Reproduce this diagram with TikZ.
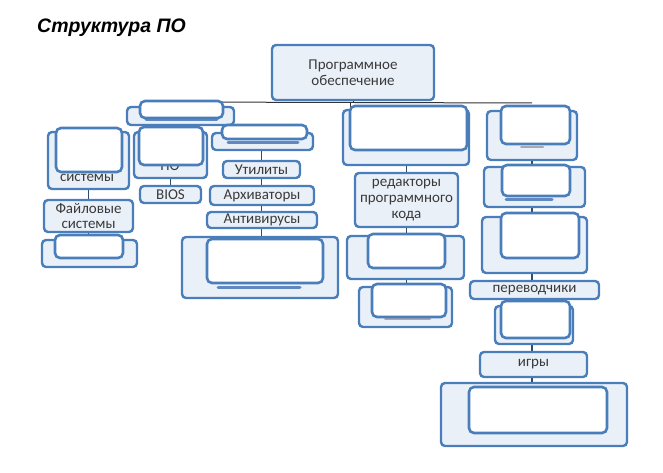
\documentclass[tikz,border=0pt]{standalone}
\usepackage{fontspec}
\setmainfont{Carlito}
\newfontfamily\titlefont{Liberation Sans}
\definecolor{bblue}{HTML}{4A7EBB}
\definecolor{bfill}{HTML}{EAF0F8}
\definecolor{tgray}{HTML}{3A3A3A}
\definecolor{smudge}{HTML}{4A78B8}
\pgfdeclarelayer{bg}
\pgfsetlayers{bg,main}
\newcommand\mybox[7]{\node[#2, minimum width={(#5-#3)*1pt}, minimum height={(#6-#4)*1pt}] (#1) at ({(#3+#5)/2},{(#4+#6)/2}) {#7};}
\begin{document}
\begin{tikzpicture}[x=1pt,y=-1pt,
  under/.style={draw=bblue, fill=bfill, line width=2.4pt, rounded corners=4pt, inner sep=0pt, align=center, text=tgray, font=\fontsize{15}{15.6}\selectfont},
  wbox/.style={draw=bblue, fill=white, line width=2.6pt, rounded corners=5pt, inner sep=0pt},
  conn/.style={draw=black!80, line width=1pt},
  tick/.style={draw=bblue!60!black, line width=1.3pt},
  smear/.style={draw=smudge, line width=3pt, line cap=round, opacity=0.85},
  gsmear/.style={draw=black!45, line width=2pt, line cap=round, opacity=0.7},
  btext/.style={text=tgray, font=\fontsize{15}{15.6}\selectfont, inner sep=0pt}]
\useasboundingbox (0,0) rectangle (663,473);
\node[anchor=base west, inner sep=0pt, font=\titlefont\bfseries\itshape\fontsize{19.5}{22}\selectfont] (title) at (37,33) {Структура ПО};
% root
\mybox{root}{under}{272}{45}{434}{100}{Программное\\обеспечение}
% level 1
\mybox{sys}{under}{127}{107}{234}{125}{}
\mybox{sp}{under}{343}{110}{469}{165}{}
\mybox{ap}{under}{487}{111}{577}{160}{}
% system software column
\mybox{os}{under}{48}{132}{129}{189}{}
\node[btext] (ostext) at (87,178) {системы};
\mybox{fs}{under}{44}{200}{133}{232}{Файловые\\системы}
\mybox{lb}{under}{42}{240}{137}{267}{}
\mybox{drv}{under}{134}{132}{207}{178}{}
\node[btext] (drvtext) at (170,165.5) {ПО};
\mybox{bios}{under}{140}{186}{201}{203}{BIOS}
\mybox{srv}{under}{212}{133}{313}{150}{}
\mybox{util}{under}{223}{161}{300}{178}{Утилиты}
\mybox{arch}{under}{210}{186}{314}{205}{Архиваторы}
\mybox{anti}{under}{207}{212}{317}{228}{Антивирусы}
\mybox{big}{under}{182}{237}{338}{298}{}
% programming systems column
\mybox{ed}{under}{355}{173}{458}{227}{редакторы\\программного\\кода}
\mybox{sp2}{under}{347}{236}{464}{279}{}
\mybox{sp3}{under}{359}{287}{452}{327}{}
% application column
\mybox{ap2}{under}{484}{167}{585}{207}{}
\mybox{ap3}{under}{482}{217}{587}{273}{}
\mybox{tr}{under}{470}{281}{599}{299}{переводчики}
\mybox{ap4}{under}{495}{306}{573}{344}{}
\mybox{gm}{under}{480}{352}{587}{377}{игры}
\mybox{ap5}{under}{441}{383}{627}{446}{}
% remnants
\coordinate (s1a) at (146,120); \coordinate (s1b) at (217,120);
\draw[smear] (s1a) -- (s1b);
\coordinate (s2a) at (228,143); \coordinate (s2b) at (298,143);
\draw[smear] (s2a) -- (s2b);
\coordinate (s3a) at (218,287); \coordinate (s3b) at (300,287);
\draw[smear] (s3a) -- (s3b);
\coordinate (s4a) at (385,319); \coordinate (s4b) at (430,319);
\draw[gsmear] (s4a) -- (s4b);
\coordinate (s5a) at (521,147); \coordinate (s5b) at (543,147);
\draw[gsmear] (s5a) -- (s5b);
\coordinate (s6a) at (506,199); \coordinate (s6b) at (552,199);
\draw[smear] (s6a) -- (s6b);
% redaction boxes
\mybox{wsys}{wbox}{140}{101}{223}{118}{}
\mybox{wos}{wbox}{56}{128}{122}{172}{}
\mybox{wdrv}{wbox}{139}{127}{203}{165}{}
\mybox{wsrv}{wbox}{222}{125}{307}{139}{}
\mybox{wbig}{wbox}{207}{239}{323}{283}{}
\mybox{wlb}{wbox}{55}{235}{123}{258}{}
\mybox{wsp}{wbox}{350}{106}{467}{150}{}
\mybox{wsp2}{wbox}{368}{234}{445}{268}{}
\mybox{wsp3}{wbox}{372}{284}{446}{317}{}
\mybox{wap}{wbox}{501}{106}{570}{144}{}
\mybox{wap2}{wbox}{502}{165}{570}{196}{}
\mybox{wap3}{wbox}{501}{213}{579}{258}{}
\mybox{wap4}{wbox}{501}{301}{570}{338}{}
\mybox{wap5}{wbox}{469}{387}{607}{433}{}
% connectors
\begin{pgfonlayer}{bg}
\coordinate (busL) at (177,102);
\coordinate (busR) at (532,103);
\draw[conn] (busL) -- (busR);
\draw[conn] (root.south) -- (root.south |- busR);
\coordinate (spstub) at (350,103);
\draw[conn] (spstub) -- (spstub |- sp.north);
\draw[tick] (os.south -| fs.north) -- (fs.north);
\draw[tick] (fs.south) -- (fs.south |- lb.north);
\draw[tick] (drv.south) -- (drv.south |- bios.north);
\draw[tick] (srv.south -| util.north) -- (util.north);
\draw[tick] (util.south) -- (util.south |- arch.north);
\draw[tick] (util.south |- arch.south) -- (util.south |- anti.north);
\draw[tick] (util.south |- anti.south) -- (util.south |- big.north);
\draw[tick] (ed.south) -- (ed.south |- sp2.north);
\draw[tick] (ed.north) -- (ed.north |- sp.south);
\draw[tick] (ed.south |- sp2.south) -- (ed.south |- sp3.north);
\draw[tick] (ap.south) -- (ap.south |- ap2.north);
\draw[tick] (ap.south |- ap2.south) -- (ap.south |- ap3.north);
\draw[tick] (ap.south |- ap3.south) -- (ap.south |- tr.north);
\draw[tick] (ap.south |- tr.south) -- (ap.south |- ap4.north);
\draw[tick] (ap.south |- ap4.south) -- (ap.south |- gm.north);
\draw[tick] (ap.south |- gm.south) -- (ap.south |- ap5.north);
\end{pgfonlayer}
\end{tikzpicture}
\end{document}
